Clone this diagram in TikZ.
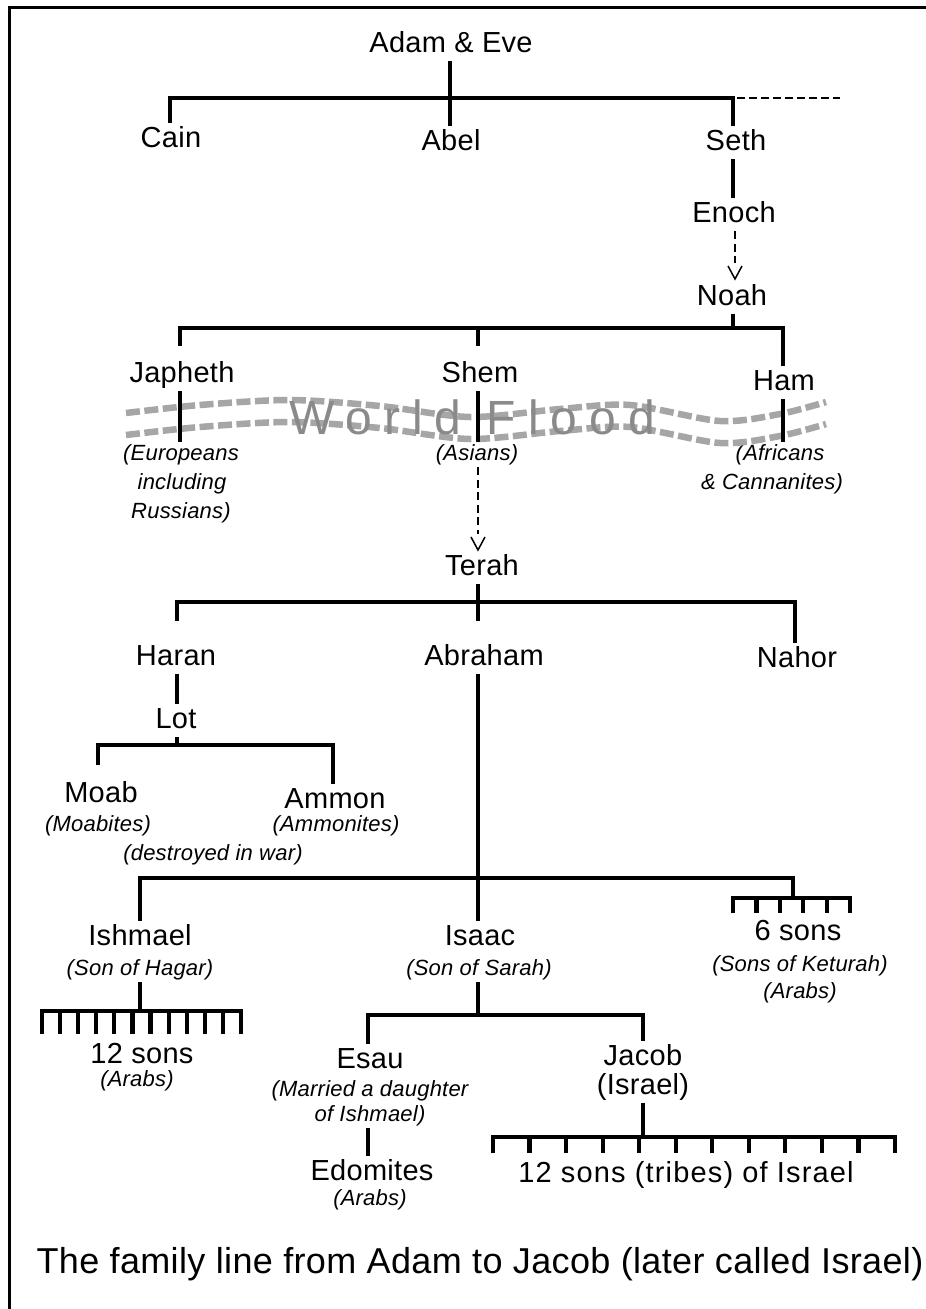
\documentclass[tikz,border=0pt]{standalone}
\usepackage{fontspec}
\setmainfont{Liberation Sans}
\newfontfamily\namefont[LetterSpace=1]{Liberation Sans}
\newfontfamily\tribefont[LetterSpace=4]{Liberation Sans}
\newfontfamily\notefont[LetterSpace=1]{Liberation Sans}
\newfontfamily\floodfont[LetterSpace=25]{Liberation Sans}
\usetikzlibrary{calc}
\definecolor{floodgray}{RGB}{166,166,166}
\definecolor{floodtext}{RGB}{138,138,138}
\tikzset{
 nm/.style={font=\namefont\fontsize{29}{32}\selectfont, anchor=base, text height=21pt, text depth=6pt, inner xsep=1pt, inner ysep=3pt},
 nt/.style={font=\notefont\itshape\fontsize{22}{26}\selectfont, anchor=base, text height=16pt, text depth=5pt, inner xsep=1pt, inner ysep=2pt},
 tree/.style={line width=4.2pt},
 dline/.style={line width=2.6pt, dash pattern=on 8pt off 4.5pt},
 dthin/.style={line width=2.3pt, dash pattern=on 8pt off 4pt},
 chev/.style={line width=1.5pt},
 wave/.style={line width=6.5pt, draw=floodgray, dash pattern=on 14pt off 4.5pt},
}
\begin{document}
\begin{tikzpicture}[x=1pt,y=-1pt]
\useasboundingbox (0,0) rectangle (926,1309);
% frame
\draw[line width=3pt] (9.5,1309) -- (9.5,7.5) -- (926,7.5);

% ---- names
\node[nm] (adam) at (451,52) {Adam \& Eve};
\node[nm] (cain) at (171,147) {Cain};
\node[nm] (abel) at (451,150) {Abel};
\node[nm] (seth) at (736,150) {Seth};
\node[nm] (enoch) at (734,222) {Enoch};
\node[nm] (noah) at (732,305) {Noah};
\node[nm] (japheth) at (182,382) {Japheth};
\node[nm] (shem) at (480,382) {Shem};
\node[nm] (ham) at (784,390) {Ham};
\node[nm] (terah) at (482,575) {Terah};
\node[nm] (haran) at (176,665) {Haran};
\node[nm] (abraham) at (484,665) {Abraham};
\node[nm] (nahor) at (797,667) {Nahor};
\node[nm] (lot) at (176,728) {Lot};
\node[nm] (moab) at (101,802) {Moab};
\node[nm] (ammon) at (335,808) {Ammon};
\node[nm] (ishmael) at (140,945) {Ishmael};
\node[nm] (isaac) at (480,945) {Isaac};
\node[nm] (sixsons) at (798,940) {6 sons};
\node[nm] (twelve) at (142,1063) {12 sons};
\node[nm] (esau) at (370,1068) {Esau};
\node[nm] (jacob) at (643,1065) {Jacob};
\node[nm] (jacobisr) at (643,1094) {(Israel)};
\node[nm] (edomites) at (372,1180) {Edomites};
\node[nm, font=\tribefont\fontsize{29}{32}\selectfont] (tribes) at (686,1182) {12 sons (tribes) of Israel};

% ---- notes
\node[nt] (eur1) at (181,460) {(Europeans};
\node[nt] (eur2) at (182,489) {including};
\node[nt] (eur3) at (181,518) {Russians)};
\node[nt] (asians) at (477,460) {(Asians)};
\node[nt] (afr1) at (780,460) {(Africans};
\node[nt] (afr2) at (772,489) {\& Cannanites)};
\node[nt] (moabites) at (98,831) {(Moabites)};
\node[nt] (ammonites) at (336,831) {(Ammonites)};
\node[nt] (destroyed) at (213,860) {(destroyed in war)};
\node[nt] (hagar) at (140,975) {(Son of Hagar)};
\node[nt] (sarah) at (479,975) {(Son of Sarah)};
\node[nt] (keturah) at (800,971) {(Sons of Keturah)};
\node[nt] (arabs1) at (800,998) {(Arabs)};
\node[nt] (arabs2) at (137,1086) {(Arabs)};
\node[nt] (married1) at (370,1096) {(Married a daughter};
\node[nt] (married2) at (370,1121) {of Ishmael)};
\node[nt] (arabs3) at (370,1205) {(Arabs)};

% ---- title
\node[font=\namefont\fontsize{36}{40}\selectfont, anchor=base] (title) at (480,1273) {The family line from Adam to Jacob (later called Israel)};

% ---- World Flood band
\draw[wave] plot[smooth] coordinates {(126,413) (200,405) (290,400) (380,406) (470,417) (560,409) (630,405) (720,421) (780,414) (826,402)};
\draw[wave] plot[smooth] coordinates {(126,435) (200,427) (290,422) (380,428) (470,439) (560,431) (630,427) (720,443) (780,436) (826,424)};
\node[font=\floodfont\fontsize{48}{52}\selectfont, text=floodtext, anchor=base] (flood) at (472,434) {World Flood};

% ---- connectors
\coordinate (b1L) at (170,98); \coordinate (b1M) at (450,98);
\coordinate (b1R) at (733,98); \coordinate (b1E) at (840,98);
\draw[tree] (b1M |- adam.south) -- (b1M |- abel.north);
\draw[tree] (b1L |- cain.north) -- (b1L) -- (b1R) -- (b1R |- seth.north);
\draw[dthin] ($(b1R)+(4,0)$) -- (b1E);
\draw[tree] (b1R |- seth.south) -- (b1R |- enoch.north);
\coordinate (c1) at (735,279);
\draw[dline] (c1 |- enoch.south) -- ($(c1)+(0,-16)$);
\draw[chev] ($(c1)+(-7,-13)$) -- (c1) -- ($(c1)+(7,-13)$);

\coordinate (b2L) at (180,328); \coordinate (b2M) at (478,328);
\coordinate (b2N) at (733,328); \coordinate (b2R) at (783,328);
\draw[tree] (b2N |- noah.south) -- (b2N);
\draw[tree, shorten <=12pt] (b2L |- japheth.north) -- (b2L) -- (b2R) -- (b2R |- ham.north);
\draw[tree, shorten >=12pt] (b2M) -- (b2M |- shem.north);
\draw[tree] (b2L |- japheth.south) -- (b2L |- eur1.north);
\draw[tree] (b2M |- shem.south) -- (b2M |- asians.north);
\draw[tree] (b2R |- ham.south) -- (b2R |- afr1.north);

\coordinate (c2) at (478,550);
\draw[dline] (c2 |- asians.south) -- ($(c2)+(0,-16)$);
\draw[chev] ($(c2)+(-7,-13)$) -- (c2) -- ($(c2)+(7,-13)$);

\coordinate (b3L) at (177,602); \coordinate (b3M) at (478,602); \coordinate (b3R) at (795,602);
\draw[tree, shorten >=20pt] (b3M |- terah.south) -- (b3M |- abraham.north);
\draw[tree, shorten <=20pt] (b3L |- haran.north) -- (b3L) -- (b3R) -- (b3R |- nahor.north);
\draw[tree] (b3L |- haran.south) -- (b3L |- lot.north);

\coordinate (b4L) at (98,745); \coordinate (b4M) at (177,745); \coordinate (b4R) at (333,745);
\draw[tree] (b4M |- lot.south) -- (b4M);
\draw[tree, shorten <=13pt] (b4L |- moab.north) -- (b4L) -- (b4R) -- (b4R |- ammon.north);

\coordinate (b5L) at (140,878); \coordinate (b5M) at (478,878);
\coordinate (b5R) at (793,878); \coordinate (b5K) at (793,898);
\draw[tree] (b5M |- abraham.south) -- (b5M |- isaac.north);
\draw[tree] (b5L |- ishmael.north) -- (b5L) -- (b5R) -- (b5K);
\coordinate (k1) at (733,898); \coordinate (k6) at (850,898);
\draw[tree] ($(k1)+(0,15)$) -- (k1) -- (k6) -- ++(0,15);
\foreach \i in {1,...,4} \draw[tree] ($(k1)!\i/5!(k6)$) -- ++(0,15);

\coordinate (b6M) at (140,1011); \coordinate (i1) at (42,1011); \coordinate (i12) at (241,1011);
\draw[tree] (b6M |- hagar.south) -- (b6M);
\draw[tree] ($(i1)+(0,23)$) -- (i1) -- (i12) -- ++(0,23);
\foreach \i in {1,...,10} \draw[tree] ($(i1)!\i/11!(i12)$) -- ++(0,23);

\coordinate (b7L) at (368,1015); \coordinate (b7M) at (478,1015); \coordinate (b7R) at (643,1015);
\draw[tree] (b7M |- sarah.south) -- (b7M);
\draw[tree] (b7L |- esau.north) -- (b7L) -- (b7R) -- (b7R |- jacob.north);
\draw[tree] (b7L |- married2.south) -- (b7L |- edomites.north);

\coordinate (b8M) at (643,1137); \coordinate (j1) at (493,1137); \coordinate (j12) at (895,1137);
\draw[tree] (b8M |- jacobisr.south) -- (b8M);
\draw[tree] ($(j1)+(0,16)$) -- (j1) -- (j12) -- ++(0,16);
\foreach \i in {1,...,10} \draw[tree] ($(j1)!\i/11!(j12)$) -- ++(0,16);
\end{tikzpicture}
\end{document}
